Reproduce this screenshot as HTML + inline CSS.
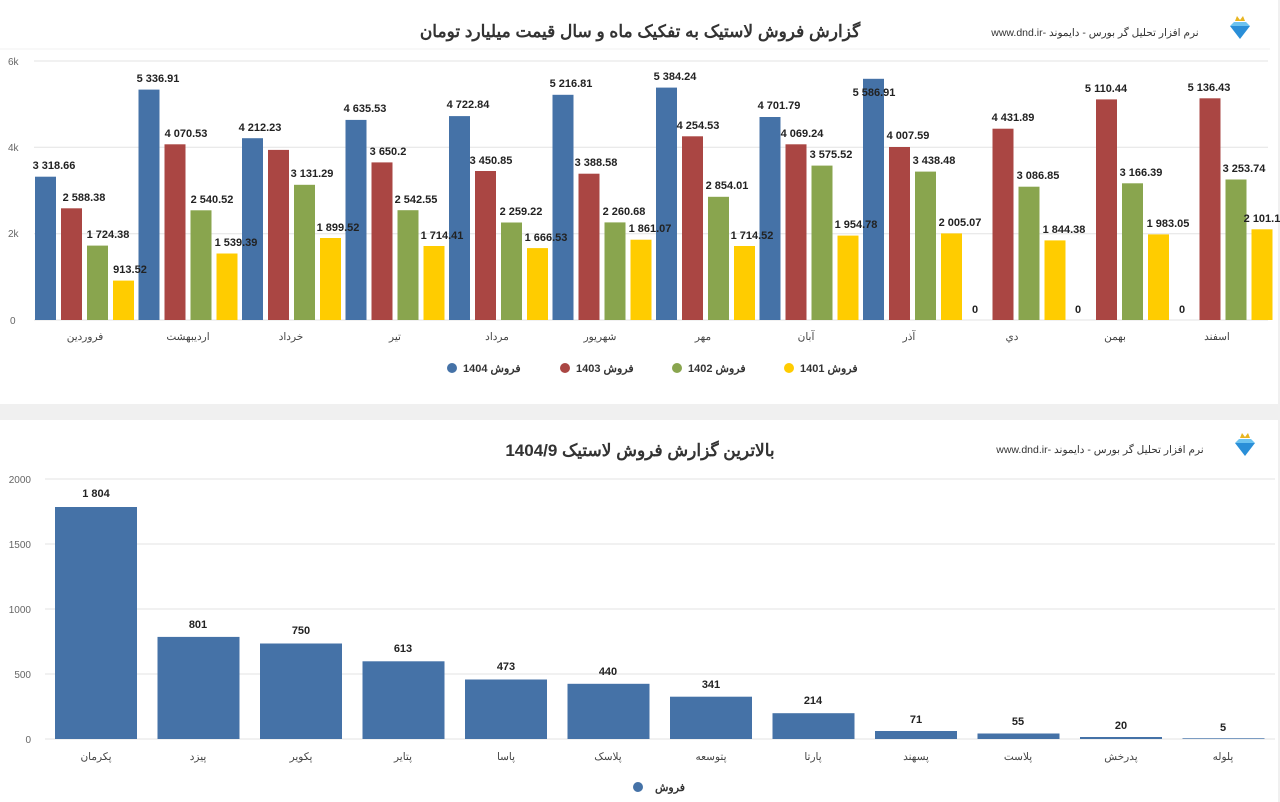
<!DOCTYPE html>
<html><head><meta charset="utf-8"><style>
html,body{margin:0;padding:0;background:#f0f0f0;}
svg{display:block;font-family:"Liberation Sans","Noto Sans CJK SC",sans-serif;}
.v{font-size:11px;font-weight:bold;fill:#222;text-anchor:middle;}
.ax{font-size:10px;fill:#666;}
.xl{font-size:10.5px;fill:#444;text-anchor:middle;}
.t{font-size:17px;font-weight:bold;fill:#333;text-anchor:middle;}
.b{font-size:10.5px;fill:#333;text-anchor:middle;}
.lg{font-size:11px;font-weight:bold;fill:#333;}
</style></head><body>
<svg width="1280" height="802" viewBox="0 0 1280 802">
<rect x="0" y="0" width="1278" height="404" fill="#fff"/>
<rect x="0" y="420" width="1278" height="382" fill="#fff"/>
<text class="t" x="640" y="37" direction="rtl">گزارش فروش لاستیک به تفکیک ماه و سال قیمت میلیارد تومان</text>
<text class="b" x="1095" y="36" direction="rtl" unicode-bidi="embed">نرم افزار تحلیل گر بورس - دایموند -www.dnd.ir</text>
<g transform="translate(1240,30)"><polygon points="-10,-4 10,-4 0,9" fill="#2a8fd8"/><polygon points="-10,-4 -6,-8 6,-8 10,-4" fill="#6cc3f0"/><polygon points="-5,-9 -3,-14 0,-10 3,-14 5,-9" fill="#e8b520"/></g>
<line x1="0" y1="49" x2="1270" y2="49" stroke="#f0f0f0"/>
<g stroke="#e3e3e3"><line x1="34" y1="61" x2="1268" y2="61"/><line x1="34" y1="147.3" x2="1268" y2="147.3"/><line x1="34" y1="233.7" x2="1268" y2="233.7"/><line x1="34" y1="320" x2="1268" y2="320"/></g>
<text class="ax" x="8" y="65">6k</text><text class="ax" x="8" y="151">4k</text><text class="ax" x="8" y="237">2k</text><text class="ax" x="10" y="324">0</text>
<g fill="#4572a7">
<rect x="35" y="176.7" width="21" height="143.3"/>
<rect x="138.5" y="89.6" width="21" height="230.4"/>
<rect x="242" y="138.2" width="21" height="181.8"/>
<rect x="345.5" y="119.9" width="21" height="200.1"/>
<rect x="449" y="116.1" width="21" height="203.9"/>
<rect x="552.5" y="94.8" width="21" height="225.2"/>
<rect x="656" y="87.6" width="21" height="232.4"/>
<rect x="759.5" y="117" width="21" height="203"/>
<rect x="863" y="78.8" width="21" height="241.2"/>
</g>
<g fill="#aa4643">
<rect x="61" y="208.3" width="21" height="111.7"/>
<rect x="164.5" y="144.3" width="21" height="175.7"/>
<rect x="268" y="149.9" width="21" height="170.1"/>
<rect x="371.5" y="162.4" width="21" height="157.6"/>
<rect x="475" y="171" width="21" height="149"/>
<rect x="578.5" y="173.7" width="21" height="146.3"/>
<rect x="682" y="136.3" width="21" height="183.7"/>
<rect x="785.5" y="144.3" width="21" height="175.7"/>
<rect x="889" y="147" width="21" height="173"/>
<rect x="992.5" y="128.7" width="21" height="191.3"/>
<rect x="1096" y="99.4" width="21" height="220.6"/>
<rect x="1199.5" y="98.3" width="21" height="221.7"/>
</g>
<g fill="#89a54e">
<rect x="87" y="245.6" width="21" height="74.4"/>
<rect x="190.5" y="210.3" width="21" height="109.7"/>
<rect x="294" y="184.8" width="21" height="135.2"/>
<rect x="397.5" y="210.2" width="21" height="109.8"/>
<rect x="501" y="222.5" width="21" height="97.5"/>
<rect x="604.5" y="222.4" width="21" height="97.6"/>
<rect x="708" y="196.8" width="21" height="123.2"/>
<rect x="811.5" y="165.6" width="21" height="154.4"/>
<rect x="915" y="171.6" width="21" height="148.4"/>
<rect x="1018.5" y="186.7" width="21" height="133.3"/>
<rect x="1122" y="183.3" width="21" height="136.7"/>
<rect x="1225.5" y="179.5" width="21" height="140.5"/>
</g>
<g fill="#ffcc00">
<rect x="113" y="280.6" width="21" height="39.4"/>
<rect x="216.5" y="253.5" width="21" height="66.5"/>
<rect x="320" y="238" width="21" height="82"/>
<rect x="423.5" y="246" width="21" height="74"/>
<rect x="527" y="248.1" width="21" height="71.9"/>
<rect x="630.5" y="239.7" width="21" height="80.3"/>
<rect x="734" y="246" width="21" height="74"/>
<rect x="837.5" y="235.6" width="21" height="84.4"/>
<rect x="941" y="233.4" width="21" height="86.6"/>
<rect x="1044.5" y="240.4" width="21" height="79.6"/>
<rect x="1148" y="234.4" width="21" height="85.6"/>
<rect x="1251.5" y="229.3" width="21" height="90.7"/>
</g>
<g class="v">
<text x="54" y="169">3 318.66</text><text x="158" y="82">5 336.91</text><text x="260" y="131">4 212.23</text><text x="365" y="112">4 635.53</text><text x="468" y="108">4 722.84</text><text x="571" y="87">5 216.81</text><text x="675" y="80">5 384.24</text><text x="779" y="109">4 701.79</text><text x="874" y="96">5 586.91</text>
<text x="975" y="313">0</text><text x="1078" y="313">0</text><text x="1182" y="313">0</text>
<text x="84" y="201">2 588.38</text><text x="186" y="137">4 070.53</text><text x="388" y="155">3 650.2</text><text x="491" y="164">3 450.85</text><text x="596" y="166">3 388.58</text><text x="698" y="129">4 254.53</text><text x="802" y="137">4 069.24</text><text x="908" y="139">4 007.59</text><text x="1013" y="121">4 431.89</text><text x="1106" y="92">5 110.44</text><text x="1209" y="91">5 136.43</text>
<text x="108" y="238">1 724.38</text><text x="212" y="203">2 540.52</text><text x="312" y="177">3 131.29</text><text x="416" y="203">2 542.55</text><text x="521" y="215">2 259.22</text><text x="624" y="215">2 260.68</text><text x="727" y="189">2 854.01</text><text x="831" y="158">3 575.52</text><text x="934" y="164">3 438.48</text><text x="1038" y="179">3 086.85</text><text x="1141" y="176">3 166.39</text><text x="1244" y="172">3 253.74</text>
<text x="130" y="273">913.52</text><text x="236" y="246">1 539.39</text><text x="338" y="231">1 899.52</text><text x="442" y="239">1 714.41</text><text x="546" y="241">1 666.53</text><text x="650" y="232">1 861.07</text><text x="752" y="239">1 714.52</text><text x="856" y="228">1 954.78</text><text x="960" y="226">2 005.07</text><text x="1064" y="233">1 844.38</text><text x="1168" y="227">1 983.05</text><text x="1262" y="222">2 101.1</text>
</g>
<g class="xl">
<text x="85" y="340">فروردین</text><text x="188" y="340">اردیبهشت</text><text x="291" y="340">خرداد</text><text x="395" y="340">تیر</text><text x="497" y="340">مرداد</text><text x="600" y="340">شهریور</text><text x="703" y="340">مهر</text><text x="806" y="340">آبان</text><text x="909" y="340">آذر</text><text x="1012" y="340">دي</text><text x="1115" y="340">بهمن</text><text x="1217" y="340">اسفند</text>
</g>
<circle cx="452" cy="368" r="5" fill="#4572a7"/><text class="lg" x="463" y="372">فروش 1404</text>
<circle cx="565" cy="368" r="5" fill="#aa4643"/><text class="lg" x="576" y="372">فروش 1403</text>
<circle cx="677" cy="368" r="5" fill="#89a54e"/><text class="lg" x="688" y="372">فروش 1402</text>
<circle cx="789" cy="368" r="5" fill="#ffcc00"/><text class="lg" x="800" y="372">فروش 1401</text>
<text class="t" x="640" y="456" direction="rtl">بالاترین گزارش فروش لاستیک 1404/9</text>
<text class="b" x="1100" y="453" direction="rtl" unicode-bidi="embed">نرم افزار تحلیل گر بورس - دایموند -www.dnd.ir</text>
<g transform="translate(1245,447)"><polygon points="-10,-4 10,-4 0,9" fill="#2a8fd8"/><polygon points="-10,-4 -6,-8 6,-8 10,-4" fill="#6cc3f0"/><polygon points="-5,-9 -3,-14 0,-10 3,-14 5,-9" fill="#e8b520"/></g>
<g stroke="#e3e3e3"><line x1="45" y1="479" x2="1275" y2="479"/><line x1="45" y1="544" x2="1275" y2="544"/><line x1="45" y1="609" x2="1275" y2="609"/><line x1="45" y1="674" x2="1275" y2="674"/><line x1="45" y1="739" x2="1275" y2="739"/></g>
<g class="ax" text-anchor="end"><text x="31" y="483">2000</text><text x="31" y="548">1500</text><text x="31" y="613">1000</text><text x="31" y="678">500</text><text x="31" y="743">0</text></g>
<g fill="#4572a7">
<rect x="55" y="507" width="82" height="232"/>
<rect x="157.5" y="636.9" width="82" height="102.1"/>
<rect x="260" y="643.5" width="82" height="95.5"/>
<rect x="362.5" y="661.3" width="82" height="77.7"/>
<rect x="465" y="679.5" width="82" height="59.5"/>
<rect x="567.5" y="683.8" width="82" height="55.2"/>
<rect x="670" y="696.7" width="82" height="42.3"/>
<rect x="772.5" y="713.2" width="82" height="25.8"/>
<rect x="875" y="731" width="82" height="8"/>
<rect x="977.5" y="733.5" width="82" height="5.5"/>
<rect x="1080" y="737" width="82" height="2"/>
<rect x="1182.5" y="738.3" width="82" height="0.7"/>
</g>
<g class="v">
<text x="96" y="497">1 804</text><text x="198" y="628">801</text><text x="301" y="634">750</text><text x="403" y="652">613</text><text x="506" y="670">473</text><text x="608" y="675">440</text><text x="711" y="688">341</text><text x="813" y="704">214</text><text x="916" y="723">71</text><text x="1018" y="725">55</text><text x="1121" y="729">20</text><text x="1223" y="731">5</text>
</g>
<g class="xl">
<text x="96" y="760">پکرمان</text><text x="198" y="760">پیزد</text><text x="301" y="760">پکویر</text><text x="403" y="760">پتایر</text><text x="506" y="760">پاسا</text><text x="608" y="760">پلاسک</text><text x="711" y="760">پتوسعه</text><text x="813" y="760">پارتا</text><text x="916" y="760">پسهند</text><text x="1018" y="760">پلاست</text><text x="1121" y="760">پدرخش</text><text x="1223" y="760">پلوله</text>
</g>
<circle cx="638" cy="787" r="5" fill="#4572a7"/><text class="lg" x="655" y="791">فروش</text>
</svg>
</body></html>
